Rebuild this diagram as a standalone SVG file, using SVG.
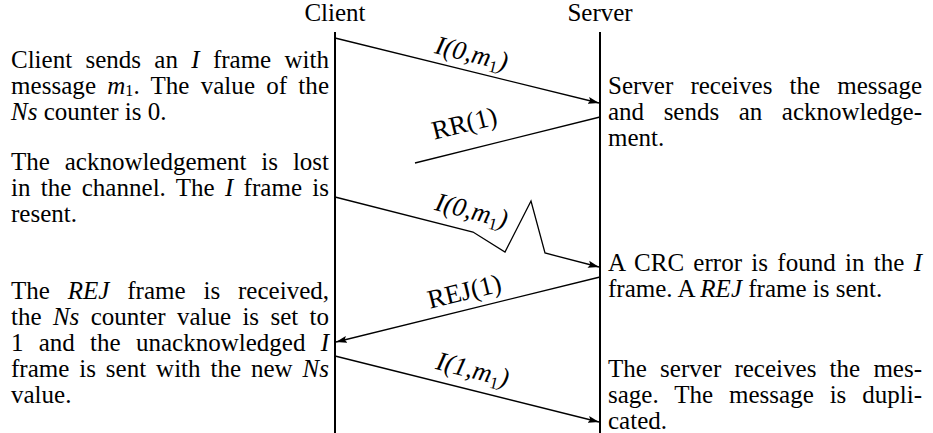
<svg xmlns="http://www.w3.org/2000/svg" width="933" height="433" viewBox="0 0 933 433">
<style>
text { font-family: "Liberation Serif", "Times New Roman", serif; font-size: 25px; fill: #000; }
.it { font-style: italic; }
.sub { font-size: 17px; font-style: normal; }
.bsub { font-size: 16px; font-style: normal; }
.life { stroke: #000; stroke-width: 2; fill: none; }
.msg { stroke: #000; stroke-width: 1.3; fill: none; stroke-linejoin: miter; }
.arr { marker-end: url(#ah); }
.lbl { text-anchor: middle; font-size: 26.5px; }
</style>
<defs>
<marker id="ah" markerWidth="12" markerHeight="8" refX="11" refY="4" orient="auto" markerUnits="userSpaceOnUse">
<path d="M0,0.5 L11,4 L0,7.5 L2,4 Z" fill="#000"/>
</marker>
</defs>
<rect width="933" height="433" fill="#fff"/>

<g id="client">
<text x="335" y="21" text-anchor="middle">Client</text>
<line class="life" x1="335" y1="32" x2="335" y2="433"/>
</g>
<g id="server">
<text x="600" y="21" text-anchor="middle">Server</text>
<line class="life" x1="600" y1="32" x2="600" y2="433"/>
</g>

<g id="note-client-1">
<text x="11" y="68" textLength="318" lengthAdjust="spacing" word-spacing="7.1">Client sends an <tspan class="it">I</tspan> frame with</text>
<text x="11" y="94" textLength="318" lengthAdjust="spacing" word-spacing="4.9">message <tspan class="it">m</tspan><tspan class="bsub" dy="2">1</tspan><tspan dy="-2">. The value of the</tspan></text>
<text x="11" y="120"><tspan class="it">Ns</tspan> counter is 0.</text>
</g>
<g id="note-client-2">
<text x="11" y="170" textLength="318" lengthAdjust="spacing" word-spacing="8.6">The acknowledgement is lost</text>
<text x="11" y="196" textLength="318" lengthAdjust="spacing" word-spacing="4">in the channel. The <tspan class="it">I</tspan> frame is</text>
<text x="11" y="222">resent.</text>
</g>
<g id="note-client-3">
<text x="11" y="299" textLength="318" lengthAdjust="spacing" word-spacing="11.6">The <tspan class="it">REJ</tspan> frame is received,</text>
<text x="11" y="325" textLength="318" lengthAdjust="spacing" word-spacing="5.1">the <tspan class="it">Ns</tspan> counter value is set to</text>
<text x="11" y="351" textLength="318" lengthAdjust="spacing" word-spacing="9">1 and the unacknowledged <tspan class="it">I</tspan></text>
<text x="11" y="377" textLength="318" lengthAdjust="spacing" word-spacing="3.7">frame is sent with the new <tspan class="it">Ns</tspan></text>
<text x="11" y="403">value.</text>
</g>

<g id="note-server-1">
<text x="608" y="94" textLength="314" lengthAdjust="spacing" word-spacing="10.9">Server receives the message</text>
<text x="608" y="120" textLength="314" lengthAdjust="spacing" word-spacing="13.3">and sends an acknowledge-</text>
<text x="608" y="146">ment.</text>
</g>
<g id="note-server-2">
<text x="608" y="271" textLength="314" lengthAdjust="spacing" word-spacing="2.9">A CRC error is found in the <tspan class="it">I</tspan></text>
<text x="608" y="297">frame. A <tspan class="it">REJ</tspan> frame is sent.</text>
</g>
<g id="note-server-3">
<text x="608" y="377" textLength="314" lengthAdjust="spacing" word-spacing="7">The server receives the mes-</text>
<text x="608" y="403" textLength="314" lengthAdjust="spacing" word-spacing="9.6">sage. The message is dupli-</text>
<text x="608" y="429">cated.</text>
</g>

<g id="connectors">
<path class="msg arr" d="M335,38 L599,103"/>
<path class="msg" d="M600,117 L415,163"/>
<path class="msg arr" d="M335,197 L473,232 L505,252 L531,201 L545,253 L599,267"/>
<path class="msg arr" d="M600,277 L336,342"/>
<path class="msg arr" d="M335,356 L599,422"/>
<g transform="translate(471,56) rotate(13.8)"><text class="lbl it" x="0" y="6">I(0,m<tspan class="sub" dy="5">1</tspan><tspan dy="-5">)</tspan></text></g>
<g transform="translate(465,126) rotate(-14)"><text class="lbl" x="0" y="6">RR(1)</text></g>
<g transform="translate(471,213) rotate(14.2)"><text class="lbl it" x="0" y="6">I(0,m<tspan class="sub" dy="5">1</tspan><tspan dy="-5">)</tspan></text></g>
<g transform="translate(465,294) rotate(-13.8)"><text class="lbl" x="0" y="6">REJ(1)</text></g>
<g transform="translate(472,372) rotate(14)"><text class="lbl it" x="0" y="6">I(1,m<tspan class="sub" dy="5">1</tspan><tspan dy="-5">)</tspan></text></g>
</g>
</svg>
